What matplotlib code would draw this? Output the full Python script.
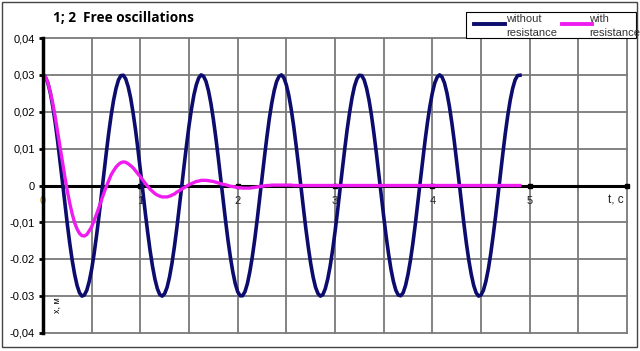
import numpy as np
import matplotlib
matplotlib.use("Agg")
import matplotlib.pyplot as plt
from matplotlib.patches import Rectangle
from matplotlib.lines import Line2D

plt.rcParams['font.family'] = ['Liberation Sans', 'DejaVu Sans']

# time grid, step 0.025 s (0 ... 4.9)
t = np.round(np.arange(0, 4.9001, 0.025), 3)

# without resistance, x in m
x_free = [
    0.0300, 0.0294, 0.0278, 0.0251, 0.0215, 0.0171, 0.0121, 0.0066, 0.0009, -0.0049,
    -0.0105, -0.0157, -0.0203, -0.0241, -0.0271, -0.0291, -0.0300, -0.0297, -0.0284, -0.0260,
    -0.0227, -0.0185, -0.0136, -0.0083, -0.0026, 0.0032, 0.0088, 0.0142, 0.0190, 0.0231,
    0.0263, 0.0286, 0.0298, 0.0299, 0.0289, 0.0268, 0.0238, 0.0198, 0.0152, 0.0099,
    0.0043, -0.0014, -0.0072, -0.0126, -0.0176, -0.0219, -0.0254, -0.0280, -0.0296, -0.0300,
    -0.0293, -0.0276, -0.0248, -0.0211, -0.0166, -0.0115, -0.0060, -0.0003, 0.0055, 0.0110,
    0.0162, 0.0207, 0.0245, 0.0273, 0.0292, 0.0300, 0.0296, 0.0282, 0.0257, 0.0223,
    0.0180, 0.0131, 0.0077, 0.0020, -0.0038, -0.0094, -0.0147, -0.0194, -0.0234, -0.0266,
    -0.0288, -0.0299, -0.0299, -0.0288, -0.0266, -0.0234, -0.0194, -0.0147, -0.0094, -0.0037,
    0.0020, 0.0077, 0.0131, 0.0181, 0.0223, 0.0257, 0.0282, 0.0296, 0.0300, 0.0292,
    0.0273, 0.0245, 0.0207, 0.0162, 0.0110, 0.0055, -0.0003, -0.0060, -0.0116, -0.0166,
    -0.0211, -0.0248, -0.0276, -0.0293, -0.0300, -0.0296, -0.0280, -0.0254, -0.0219, -0.0176,
    -0.0126, -0.0072, -0.0014, 0.0043, 0.0099, 0.0152, 0.0198, 0.0238, 0.0269, 0.0289,
    0.0299, 0.0298, 0.0286, 0.0263, 0.0231, 0.0190, 0.0141, 0.0088, 0.0032, -0.0026,
    -0.0083, -0.0137, -0.0185, -0.0227, -0.0260, -0.0284, -0.0297, -0.0299, -0.0291, -0.0271,
    -0.0241, -0.0203, -0.0157, -0.0105, -0.0049, 0.0009, 0.0066, 0.0121, 0.0171, 0.0215,
    0.0251, 0.0278, 0.0294, 0.0300, 0.0294, 0.0278, 0.0251, 0.0215, 0.0171, 0.0121,
    0.0066, 0.0009, -0.0049, -0.0105, -0.0157, -0.0203, -0.0241, -0.0271, -0.0291, -0.0300,
    -0.0297, -0.0284, -0.0260, -0.0227, -0.0185, -0.0136, -0.0083, -0.0026, 0.0032, 0.0088,
    0.0142, 0.0190, 0.0231, 0.0263, 0.0286, 0.0298, 0.0299]

# with resistance
x_damped = [
    0.0300, 0.0294, 0.0279, 0.0254, 0.0223, 0.0187, 0.0146, 0.0105, 0.0063, 0.0023,
    -0.0015, -0.0048, -0.0077, -0.0101, -0.0118, -0.0130, -0.0136, -0.0137, -0.0133, -0.0123,
    -0.0112, -0.0095, -0.0078, -0.0059, -0.0040, -0.0021, -0.0003, 0.0013, 0.0029, 0.0040,
    0.0050, 0.0057, 0.0062, 0.0064, 0.0063, 0.0059, 0.0054, 0.0048, 0.0040, 0.0032,
    0.0024, 0.0015, 0.0006, -0.0002, -0.0010, -0.0016, -0.0022, -0.0026, -0.0029, -0.0031,
    -0.0031, -0.0031, -0.0029, -0.0026, -0.0023, -0.0018, -0.0014, -0.0010, -0.0006, -0.0002,
    0.0002, 0.0005, 0.0008, 0.0011, 0.0012, 0.0014, 0.0014, 0.0014, 0.0013, 0.0012,
    0.0011, 0.0009, 0.0007, 0.0005, 0.0003, 0.0002, 0.0000, -0.0002, -0.0003, -0.0004,
    -0.0006, -0.0006, -0.0007, -0.0007, -0.0007, -0.0007, -0.0006, -0.0005, -0.0004, -0.0003,
    -0.0002, -0.0001, 0.0000, 0.0000, 0.0001, 0.0001, 0.0001, 0.0001, 0.0001, 0.0001,
    0.0001, 0.0001, 0.0001, 0.0000, 0.0000, 0.0000, 0.0000, 0.0000, 0.0000, 0.0000,
    0.0000, 0.0000, 0.0000, 0.0000, 0.0000, 0.0000, 0.0000, 0.0000, 0.0000, 0.0000,
    0.0000, 0.0000, 0.0000, 0.0000, 0.0000, 0.0000, 0.0000, 0.0000, 0.0000, 0.0000,
    0.0000, 0.0000, 0.0000, 0.0000, 0.0000, 0.0000, 0.0000, 0.0000, 0.0000, 0.0000,
    0.0000, 0.0000, 0.0000, 0.0000, 0.0000, 0.0000, 0.0000, 0.0000, 0.0000, 0.0000,
    0.0000, 0.0000, 0.0000, 0.0000, 0.0000, 0.0000, 0.0000, 0.0000, 0.0000, 0.0000,
    0.0000, 0.0000, 0.0000, 0.0000, 0.0000, 0.0000, 0.0000, 0.0000, 0.0000, 0.0000,
    0.0000, 0.0000, 0.0000, 0.0000, 0.0000, 0.0000, 0.0000, 0.0000, 0.0000, 0.0000,
    0.0000, 0.0000, 0.0000, 0.0000, 0.0000, 0.0000, 0.0000, 0.0000, 0.0000, 0.0000,
    0.0000, 0.0000, 0.0000, 0.0000, 0.0000, 0.0000, 0.0000]

y_ticks = [-0.04, -0.03, -0.02, -0.01, 0, 0.01, 0.02, 0.03, 0.04]
y_labels = ['-0,04', '-0.03', '-0.02', '-0,01', '0', '0,01', '0,02', '0,03', '0,04']
x_labels = ['0', '1', '2', '3', '4', '5']

W, H = 640, 351
fig = plt.figure(figsize=(6.4, 3.51), dpi=100)
ax = fig.add_axes([43 / W, 18 / H, 584 / W, 295 / H])
ax.set_xlim(0, 6)
ax.set_ylim(-0.04, 0.04)
for s in ['top', 'right', 'bottom']:
    ax.spines[s].set_visible(False)
ax.spines['left'].set_linewidth(2.5)
ax.spines['left'].set_color('black')
ax.spines['left'].set_zorder(5)

# grid
for v in np.arange(0.5, 6.01, 0.5):
    ax.axvline(v, color='#7a7a7a', lw=1.3, clip_on=False, zorder=1)
for h in y_ticks:
    if h != 0:
        ax.axhline(h, color='#7a7a7a', lw=1.3, clip_on=False, zorder=1)

ax.set_xticks([])
ax.set_yticks(y_ticks)
ax.set_yticklabels(y_labels, fontsize=8)
ax.tick_params(axis='y', length=3, width=2, color='black', pad=3)

# x axis on zero line
ax.plot([0, 6], [0, 0], color='black', lw=2.2, zorder=2, clip_on=False)
ax.plot(range(1, 7), [0] * 6, 's', color='black', ms=3, zorder=2, clip_on=False)
for i, lab in enumerate(x_labels):
    ax.text(i, -0.0042, lab, ha='center', va='center', fontsize=8,
            color='#d08000' if i == 0 else '#222222')
ax.text(5.88, -0.0042, 't, c', ha='center', va='center', fontsize=8.5, color='#222222')
ax.text(0.145, -0.0325, 'x, м', rotation=90, ha='center', va='center', fontsize=6.5)

ax.plot(t, x_free, color='#0c0c6e', lw=2.6, zorder=3, solid_joinstyle='round')
ax.plot(t, x_damped, color='#ee1cee', lw=2.4, zorder=4, solid_joinstyle='round')

fig.text(53 / W, 1 - 18 / H, '1; 2  Free oscillations', fontsize=9.8, fontweight='bold',
         family='Open Sans', va='center')

# legend
fig.patches.append(Rectangle((465.5 / W, 1 - 37.7 / H), 170 / W, 25.4 / H,
                             transform=fig.transFigure, facecolor='white',
                             edgecolor='black', lw=0.8))
fig.lines.append(Line2D([474 / W, 505 / W], [1 - 24.3 / H] * 2, transform=fig.transFigure,
                        color='#0c0c6e', lw=2.8))
fig.lines.append(Line2D([562 / W, 592 / W], [1 - 24.3 / H] * 2, transform=fig.transFigure,
                        color='#ee1cee', lw=2.8))
for xx, top in [(506, 'without'), (589, 'with')]:
    fig.text(xx / W, 1 - 18.5 / H, top, fontsize=8, color='#333333', va='center')
    fig.text(xx / W, 1 - 32.5 / H, 'resistance', fontsize=8, color='#333333', va='center')

# outer frame
fig.patches.append(Rectangle((2 / W, 4 / H), 635 / W, 345 / H, transform=fig.transFigure,
                             fill=False, edgecolor='#444444', lw=1))

fig.savefig('out.png', dpi=100)
